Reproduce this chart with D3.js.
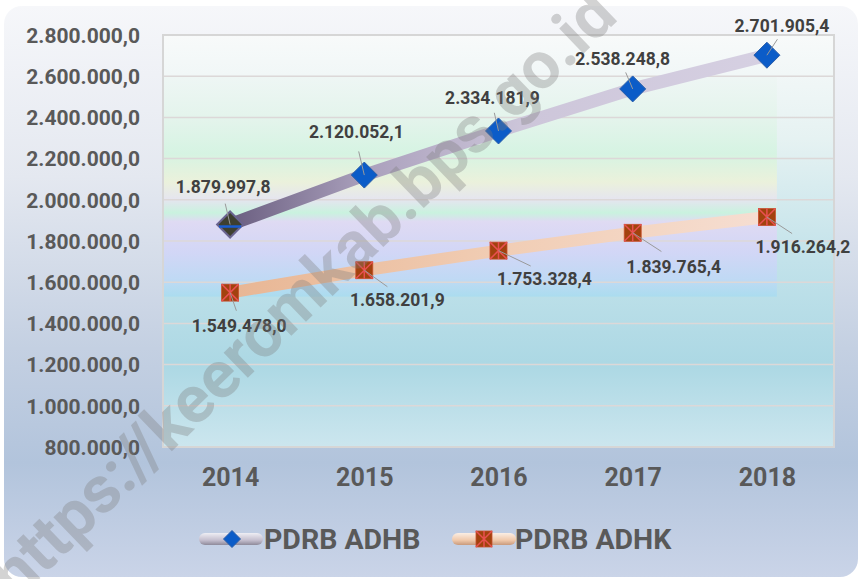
<!DOCTYPE html>
<html>
<head>
<meta charset="utf-8">
<script src="https://cdn.jsdelivr.net/npm/d3@7"></script>
<style>
  body { margin: 0; background: #ffffff; }
  svg text { font-family: Roboto, "Liberation Sans", sans-serif; font-weight: bold; }
</style>
</head>
<body>
<svg id="chart" width="862" height="579"></svg>
<script>
// chart values
var years = ["2014", "2015", "2016", "2017", "2018"];
var adhb = [1879997.8, 2120052.1, 2334181.9, 2538248.8, 2701905.4];
var adhk = [1549478.0, 1658201.9, 1753328.4, 1839765.4, 1916264.2];
var seriesNames = ["PDRB ADHB", "PDRB ADHK"];
var yTicks = [800000, 1000000, 1200000, 1400000, 1600000, 1800000,
              2000000, 2200000, 2400000, 2600000, 2800000];

// label placement (dx, dy from marker to label centre)
var adhbLabelOff = [[-7, -38], [-8, -43], [-6, -33], [-10, -30], [15, -29]];
var adhkLabelOff = [[9, 33], [33, 30], [46, 28], [41, 34], [36, 30]];

var svg = d3.select("#chart");
var W = 862, H = 579;
var plot = { left: 163, right: 834, top: 35, bottom: 447 };

var idLocale = d3.formatLocale({ decimal: ",", thousands: ".", grouping: [3], currency: ["Rp", ""] });
var fmt = idLocale.format(",.1f");

var x = d3.scalePoint()
    .domain(years)
    .range([plot.left, plot.right])
    .padding(0.5);

var y = d3.scaleLinear()
    .domain([800000, 2800000])
    .range([plot.bottom, plot.top]);

var defs = svg.append("defs");

// outer background
var bg = defs.append("linearGradient").attr("id", "bgGrad")
    .attr("x1", 0).attr("y1", 0).attr("x2", 0).attr("y2", 1);
bg.append("stop").attr("offset", "0%").attr("stop-color", "#f6f7fa");
bg.append("stop").attr("offset", "30%").attr("stop-color", "#e4e8f0");
bg.append("stop").attr("offset", "60%").attr("stop-color", "#c4d0e2");
bg.append("stop").attr("offset", "80%").attr("stop-color", "#b2c4dc");
bg.append("stop").attr("offset", "100%").attr("stop-color", "#cad4e8");

// plot area base
var pg = defs.append("linearGradient").attr("id", "plotGrad")
    .attr("x1", 0).attr("y1", 0).attr("x2", 0).attr("y2", 1);
pg.append("stop").attr("offset", "0%").attr("stop-color", "#f8fafa");
pg.append("stop").attr("offset", "25%").attr("stop-color", "#e6f2f2");
pg.append("stop").attr("offset", "55%").attr("stop-color", "#c2e2ea");
pg.append("stop").attr("offset", "80%").attr("stop-color", "#acd8e4");
pg.append("stop").attr("offset", "100%").attr("stop-color", "#cce6ee");

// pastel inner band
var ig = defs.append("linearGradient").attr("id", "innerGrad")
    .attr("x1", 0).attr("y1", 0).attr("x2", 0).attr("y2", 1);
[["0%", "#eef6f4"], ["20%", "#e2f4ea"], ["35%", "#d4f4e0"], ["48%", "#eef2d8"],
 ["56%", "#e8e4f0"], ["62%", "#c8f4dc"], ["66%", "#e2d8f4"], ["80%", "#d4d4f8"],
 ["92%", "#c0d8f6"], ["100%", "#a8dcf0"]].forEach(function(s) {
  ig.append("stop").attr("offset", s[0]).attr("stop-color", s[1]);
});

// line gradients
var lg1 = defs.append("linearGradient").attr("id", "adhbLine")
    .attr("gradientUnits", "userSpaceOnUse")
    .attr("x1", x("2014")).attr("y1", 0).attr("x2", x("2018")).attr("y2", 0);
lg1.append("stop").attr("offset", "0%").attr("stop-color", "#6a5e80");
lg1.append("stop").attr("offset", "25%").attr("stop-color", "#aaa0bc");
lg1.append("stop").attr("offset", "55%").attr("stop-color", "#cdc6da");
lg1.append("stop").attr("offset", "100%").attr("stop-color", "#d6d0e2");

var lg2 = defs.append("linearGradient").attr("id", "adhkLine")
    .attr("gradientUnits", "userSpaceOnUse")
    .attr("x1", x("2014")).attr("y1", 0).attr("x2", x("2018")).attr("y2", 0);
lg2.append("stop").attr("offset", "0%").attr("stop-color", "#e8b694");
lg2.append("stop").attr("offset", "50%").attr("stop-color", "#f1cdb4");
lg2.append("stop").attr("offset", "100%").attr("stop-color", "#f6ded2");

// legend tube gradients
var tg1 = defs.append("linearGradient").attr("id", "tube1")
    .attr("x1", 0).attr("y1", 0).attr("x2", 0).attr("y2", 1);
tg1.append("stop").attr("offset", "0%").attr("stop-color", "#eeeef4");
tg1.append("stop").attr("offset", "60%").attr("stop-color", "#c4bece");
tg1.append("stop").attr("offset", "100%").attr("stop-color", "#8e8a9a");
var tg2 = defs.append("linearGradient").attr("id", "tube2")
    .attr("x1", 0).attr("y1", 0).attr("x2", 0).attr("y2", 1);
tg2.append("stop").attr("offset", "0%").attr("stop-color", "#fbeee4");
tg2.append("stop").attr("offset", "60%").attr("stop-color", "#f0c8aa");
tg2.append("stop").attr("offset", "100%").attr("stop-color", "#c89a7c");

svg.append("rect")
    .attr("x", 4).attr("y", 6).attr("width", W - 8).attr("height", H - 8)
    .attr("rx", 18)
    .attr("fill", "url(#bgGrad)");

// plot area
svg.append("rect")
    .attr("x", plot.left).attr("y", plot.top)
    .attr("width", plot.right - plot.left).attr("height", plot.bottom - plot.top)
    .attr("fill", "url(#plotGrad)");

svg.append("rect")
    .attr("x", plot.left).attr("y", y(2600000))
    .attr("width", x("2018") + 10 - plot.left)
    .attr("height", y(1530000) - y(2600000))
    .attr("fill", "url(#innerGrad)")
    .attr("opacity", 0.85);

// gridlines
svg.append("g")
  .selectAll("line")
  .data(yTicks)
  .enter().append("line")
    .attr("x1", plot.left).attr("x2", plot.right)
    .attr("y1", function(d) { return y(d); })
    .attr("y2", function(d) { return y(d); })
    .attr("stroke", "#dcd8d8")
    .attr("stroke-width", 1.5);

svg.append("rect")
    .attr("x", plot.left).attr("y", plot.top)
    .attr("width", plot.right - plot.left).attr("height", plot.bottom - plot.top)
    .attr("fill", "none")
    .attr("stroke", "#d6d6d6")
    .attr("stroke-width", 2);

// axes
var yAxis = svg.append("g")
    .attr("transform", "translate(" + (plot.left - 23) + ",0)")
    .call(d3.axisLeft(y).tickValues(yTicks).tickFormat(fmt).tickSize(0).tickPadding(0));
yAxis.select(".domain").remove();
yAxis.selectAll("text")
    .attr("fill", "#595959")
    .style("font-size", "21px")
    .attr("dy", "0.35em");

var xAxis = svg.append("g")
    .attr("transform", "translate(0," + (plot.bottom + 21) + ")")
    .call(d3.axisBottom(x).tickSize(0).tickPadding(0));
xAxis.select(".domain").remove();
xAxis.selectAll("text")
    .attr("fill", "#595959")
    .style("font-size", "25px")
    .attr("dy", "0.71em");

// series lines
var line = d3.line()
    .x(function(d, i) { return x(years[i]); })
    .y(function(d) { return y(d); });

svg.append("path")
    .datum(adhb)
    .attr("d", line)
    .attr("fill", "none")
    .attr("stroke", "url(#adhbLine)")
    .attr("stroke-width", 13)
    .attr("stroke-linejoin", "round");

svg.append("path")
    .datum(adhk)
    .attr("d", line)
    .attr("fill", "none")
    .attr("stroke", "url(#adhkLine)")
    .attr("stroke-width", 12)
    .attr("stroke-linejoin", "round");

// leader lines
function leaders(data, offs) {
  svg.append("g").selectAll("line")
      .data(data)
    .enter().append("line")
      .attr("x1", function(d, i) { return x(years[i]); })
      .attr("y1", function(d) { return y(d); })
      .attr("x2", function(d, i) { return x(years[i]) + offs[i][0] * 0.7; })
      .attr("y2", function(d, i) { return y(d) + offs[i][1] * 0.55; })
      .attr("stroke", "#9a9a9a")
      .attr("stroke-width", 1);
}

// markers
function diamond(g, cx, cy, r, fill) {
  g.append("path")
      .attr("d", "M" + cx + "," + (cy - r) + "L" + (cx + r) + "," + cy +
                 "L" + cx + "," + (cy + r) + "L" + (cx - r) + "," + cy + "Z")
      .attr("fill", fill || "#0b5cc8")
      .attr("stroke", fill ? "#6a6490" : "#2a5ea8")
      .attr("stroke-width", fill ? 2 : 1);
}
function starSquare(g, cx, cy, s) {
  var h = s / 2;
  g.append("rect")
      .attr("x", cx - h).attr("y", cy - h).attr("width", s).attr("height", s)
      .attr("fill", "#a2420e")
      .attr("stroke", "#c85030")
      .attr("stroke-width", 0.8);
  g.append("path")
      .attr("d", "M" + (cx - h) + "," + (cy - h) + "L" + (cx + h) + "," + (cy + h) +
                 "M" + (cx + h) + "," + (cy - h) + "L" + (cx - h) + "," + (cy + h) +
                 "M" + cx + "," + (cy - h) + "L" + cx + "," + (cy + h))
      .attr("stroke", "#e85050")
      .attr("stroke-width", 1.5);
}

var mk = svg.append("g");
adhb.forEach(function(d, i) {
  var cx = x(years[i]), cy = y(d);
  if (i === 0) {
    // first marker is rendered dark in the source picture
    diamond(mk, cx, cy, 13, "#3e3f30");
    mk.append("line")
        .attr("x1", cx - 11).attr("x2", cx + 11)
        .attr("y1", cy + 2).attr("y2", cy + 2)
        .attr("stroke", "#1a5cd0").attr("stroke-width", 2.5);
  } else {
    diamond(mk, cx, cy, 13);
  }
});
adhk.forEach(function(d, i) { starSquare(mk, x(years[i]), y(d), 17); });

leaders(adhb, adhbLabelOff);
leaders(adhk, adhkLabelOff);

// data labels
function labels(data, offs) {
  svg.append("g").selectAll("text")
      .data(data)
    .enter().append("text")
      .attr("x", function(d, i) { return x(years[i]) + offs[i][0]; })
      .attr("y", function(d, i) { return y(d) + offs[i][1]; })
      .attr("dy", "0.35em")
      .attr("text-anchor", "middle")
      .attr("fill", "#404040")
      .style("font-size", "17.5px")
      .text(function(d) { return fmt(d); });
}
labels(adhb, adhbLabelOff);
labels(adhk, adhkLabelOff);

// legend
var legY = 539;
var leg = svg.append("g");
leg.append("rect")
    .attr("x", 199).attr("y", legY - 6).attr("width", 64).attr("height", 12)
    .attr("rx", 6).attr("fill", "url(#tube1)");
diamond(leg, 232, legY, 8.5);
leg.append("text")
    .attr("x", 264).attr("y", legY).attr("dy", "0.36em")
    .attr("fill", "#595959").style("font-size", "28.5px")
    .text(seriesNames[0]);

leg.append("rect")
    .attr("x", 452).attr("y", legY - 6).attr("width", 64).attr("height", 12)
    .attr("rx", 6).attr("fill", "url(#tube2)");
starSquare(leg, 484, legY, 16);
leg.append("text")
    .attr("x", 515).attr("y", legY).attr("dy", "0.36em")
    .attr("fill", "#595959").style("font-size", "28.5px")
    .text(seriesNames[1]);

// watermark
svg.append("text")
    .attr("transform", "translate(318,310) rotate(-44)")
    .attr("text-anchor", "middle")
    .attr("fill", "#7c7c7c")
    .attr("opacity", 0.33)
    .style("font-size", "66px")
    .text("https://keeromkab.bps.go.id");
</script>
</body>
</html>
